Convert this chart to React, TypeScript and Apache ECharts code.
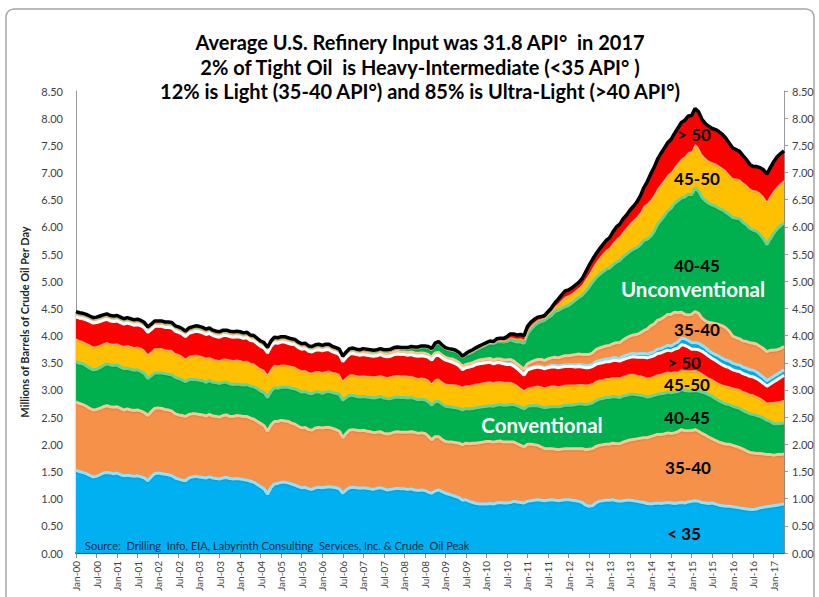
import React, { useEffect, useRef } from "react";
import * as echarts from "echarts";

// ---- Data (millions of barrels per day), monthly Jan-00 .. Apr-17 ----
const MONTHS = ["Jan", "Feb", "Mar", "Apr", "May", "Jun", "Jul", "Aug", "Sep", "Oct", "Nov", "Dec"];
const YEARS = ["00", "01", "02", "03", "04", "05", "06", "07", "08", "09", "10", "11", "12", "13", "14", "15", "16", "17"];
const Y_TICKS_MAX = 8.5;

// Conventional
const convLt35 = [
  1.52,1.50,1.48,1.46,1.43,1.40,1.41,1.44,1.47,1.48,1.47,1.46,
  1.47,1.44,1.42,1.43,1.42,1.41,1.42,1.40,1.38,1.33,1.40,1.46,
  1.47,1.46,1.45,1.44,1.42,1.38,1.36,1.34,1.33,1.38,1.40,1.41,
  1.40,1.39,1.38,1.40,1.38,1.37,1.36,1.38,1.39,1.37,1.36,1.37,
  1.36,1.35,1.34,1.32,1.30,1.26,1.22,1.18,1.08,1.20,1.27,1.28,
  1.30,1.30,1.29,1.27,1.25,1.22,1.20,1.21,1.18,1.17,1.20,1.21,
  1.20,1.21,1.22,1.21,1.20,1.18,1.10,1.16,1.20,1.21,1.20,1.19,
  1.20,1.19,1.18,1.17,1.19,1.20,1.18,1.16,1.17,1.18,1.19,1.18,
  1.18,1.17,1.18,1.16,1.15,1.16,1.15,1.12,1.10,1.14,1.16,1.13,
  1.10,1.08,1.06,1.04,1.02,0.97,0.98,0.95,0.93,0.91,0.90,0.90,
  0.90,0.91,0.90,0.92,0.93,0.92,0.92,0.93,0.95,0.94,0.93,0.92,
  0.95,0.96,0.97,0.98,0.97,0.96,0.97,0.98,0.97,0.96,0.97,0.98,
  0.98,0.97,0.96,0.95,0.93,0.88,0.86,0.87,0.92,0.95,0.96,0.97,
  0.97,0.98,0.96,0.95,0.96,0.97,0.97,0.96,0.95,0.94,0.93,0.91,
  0.90,0.91,0.92,0.91,0.92,0.93,0.92,0.91,0.92,0.93,0.92,0.94,
  0.95,0.96,0.95,0.93,0.92,0.91,0.92,0.90,0.88,0.87,0.86,0.86,
  0.85,0.84,0.83,0.82,0.81,0.80,0.80,0.81,0.83,0.84,0.85,0.86,
  0.87,0.88,0.89,0.90,
];
const conv35to40 = [
  1.26,1.25,1.25,1.24,1.23,1.23,1.23,1.22,1.22,1.23,1.22,1.22,
  1.22,1.22,1.21,1.22,1.21,1.21,1.21,1.21,1.20,1.20,1.20,1.20,
  1.20,1.20,1.19,1.19,1.19,1.18,1.18,1.19,1.18,1.17,1.16,1.15,
  1.15,1.15,1.14,1.15,1.14,1.14,1.14,1.15,1.15,1.14,1.15,1.16,
  1.16,1.16,1.17,1.16,1.16,1.16,1.16,1.16,1.16,1.15,1.15,1.14,
  1.14,1.13,1.13,1.12,1.12,1.11,1.10,1.10,1.09,1.09,1.10,1.10,
  1.10,1.10,1.09,1.08,1.07,1.06,1.02,1.04,1.06,1.06,1.06,1.06,
  1.06,1.05,1.05,1.04,1.03,1.03,1.02,1.03,1.03,1.04,1.04,1.04,
  1.04,1.05,1.05,1.06,1.05,1.05,1.05,1.03,0.98,1.00,0.98,0.96,
  0.95,0.96,0.98,0.99,1.00,1.02,1.04,1.06,1.09,1.11,1.13,1.14,
  1.15,1.14,1.14,1.13,1.13,1.12,1.12,1.11,1.09,1.07,1.05,1.03,
  1.05,1.04,1.02,1.00,0.98,0.96,0.95,0.94,0.94,0.94,0.94,0.94,
  0.94,0.95,0.96,0.97,0.99,1.02,1.05,1.05,1.04,1.03,1.03,1.03,
  1.03,1.04,1.05,1.06,1.08,1.09,1.11,1.13,1.15,1.17,1.19,1.21,
  1.24,1.25,1.26,1.27,1.27,1.28,1.28,1.30,1.31,1.34,1.33,1.31,
  1.30,1.31,1.29,1.27,1.25,1.22,1.18,1.17,1.16,1.15,1.14,1.14,
  1.13,1.12,1.11,1.09,1.07,1.05,1.04,1.02,1.00,0.98,0.96,0.95,
  0.93,0.93,0.92,0.92,
];
const conv40to45 = [
  0.74,0.74,0.75,0.74,0.74,0.74,0.74,0.75,0.76,0.77,0.77,0.77,
  0.77,0.76,0.76,0.75,0.75,0.74,0.74,0.73,0.72,0.68,0.66,0.65,
  0.64,0.65,0.66,0.66,0.67,0.67,0.67,0.66,0.64,0.64,0.63,0.63,
  0.63,0.63,0.62,0.62,0.62,0.62,0.62,0.61,0.60,0.60,0.59,0.58,
  0.58,0.58,0.59,0.59,0.60,0.60,0.60,0.61,0.62,0.62,0.62,0.61,
  0.61,0.62,0.63,0.64,0.65,0.66,0.66,0.66,0.67,0.67,0.66,0.65,
  0.64,0.65,0.66,0.66,0.67,0.68,0.69,0.66,0.64,0.63,0.62,0.62,
  0.62,0.63,0.63,0.64,0.64,0.65,0.65,0.65,0.64,0.64,0.64,0.64,
  0.64,0.63,0.63,0.62,0.62,0.62,0.62,0.63,0.64,0.64,0.65,0.65,
  0.65,0.65,0.64,0.64,0.64,0.64,0.64,0.64,0.64,0.65,0.65,0.65,
  0.65,0.66,0.66,0.67,0.67,0.68,0.68,0.69,0.69,0.70,0.70,0.70,
  0.70,0.71,0.72,0.73,0.74,0.75,0.76,0.77,0.78,0.79,0.79,0.80,
  0.80,0.80,0.81,0.82,0.82,0.83,0.83,0.84,0.84,0.85,0.85,0.86,
  0.86,0.86,0.86,0.85,0.85,0.84,0.84,0.83,0.81,0.79,0.77,0.75,
  0.74,0.74,0.74,0.75,0.75,0.75,0.75,0.75,0.74,0.74,0.74,0.73,
  0.73,0.72,0.74,0.76,0.77,0.78,0.78,0.77,0.76,0.75,0.74,0.73,
  0.72,0.72,0.72,0.71,0.71,0.71,0.71,0.70,0.68,0.66,0.63,0.61,
  0.58,0.57,0.57,0.57,
];
const conv45to50 = [
  0.43,0.43,0.42,0.43,0.44,0.43,0.43,0.42,0.41,0.40,0.40,0.40,
  0.40,0.41,0.42,0.43,0.43,0.43,0.43,0.44,0.44,0.45,0.45,0.46,
  0.46,0.46,0.45,0.45,0.46,0.45,0.45,0.44,0.43,0.44,0.45,0.46,
  0.46,0.45,0.45,0.44,0.44,0.43,0.43,0.44,0.44,0.45,0.45,0.45,
  0.45,0.44,0.44,0.43,0.43,0.42,0.42,0.42,0.43,0.43,0.43,0.42,
  0.42,0.42,0.41,0.41,0.41,0.40,0.40,0.40,0.39,0.39,0.39,0.39,
  0.39,0.39,0.39,0.38,0.38,0.38,0.37,0.38,0.39,0.39,0.39,0.39,
  0.39,0.39,0.40,0.40,0.40,0.40,0.40,0.40,0.41,0.41,0.41,0.41,
  0.41,0.41,0.40,0.40,0.40,0.40,0.40,0.41,0.41,0.42,0.42,0.42,
  0.42,0.42,0.43,0.43,0.43,0.43,0.43,0.44,0.44,0.45,0.45,0.45,
  0.45,0.45,0.44,0.44,0.44,0.43,0.43,0.42,0.40,0.38,0.36,0.35,
  0.34,0.35,0.36,0.37,0.38,0.38,0.39,0.39,0.39,0.38,0.38,0.38,
  0.38,0.38,0.37,0.37,0.37,0.37,0.37,0.37,0.37,0.36,0.36,0.36,
  0.36,0.36,0.37,0.37,0.37,0.38,0.38,0.38,0.37,0.37,0.36,0.36,
  0.36,0.36,0.37,0.37,0.38,0.38,0.38,0.38,0.37,0.37,0.37,0.38,
  0.38,0.38,0.37,0.35,0.33,0.32,0.32,0.32,0.33,0.33,0.34,0.34,
  0.35,0.35,0.36,0.36,0.37,0.37,0.37,0.36,0.35,0.34,0.33,0.36,
  0.40,0.41,0.42,0.43,
];
const convGt50 = [
  0.39,0.40,0.41,0.42,0.42,0.43,0.43,0.43,0.42,0.42,0.41,0.41,
  0.41,0.41,0.40,0.40,0.40,0.40,0.40,0.40,0.40,0.40,0.40,0.40,
  0.40,0.40,0.40,0.41,0.40,0.40,0.40,0.40,0.40,0.41,0.42,0.43,
  0.43,0.43,0.43,0.43,0.42,0.42,0.42,0.42,0.42,0.42,0.42,0.42,
  0.42,0.42,0.42,0.41,0.41,0.41,0.40,0.40,0.39,0.40,0.40,0.41,
  0.41,0.41,0.40,0.40,0.40,0.39,0.39,0.39,0.38,0.38,0.38,0.39,
  0.39,0.39,0.38,0.37,0.36,0.35,0.34,0.36,0.37,0.38,0.38,0.38,
  0.38,0.38,0.37,0.37,0.37,0.37,0.37,0.37,0.37,0.38,0.38,0.38,
  0.38,0.38,0.39,0.39,0.40,0.40,0.40,0.41,0.42,0.43,0.43,0.43,
  0.43,0.42,0.40,0.38,0.35,0.31,0.32,0.33,0.34,0.35,0.35,0.35,
  0.35,0.35,0.34,0.34,0.33,0.33,0.32,0.32,0.31,0.30,0.29,0.27,
  0.33,0.33,0.34,0.34,0.34,0.34,0.34,0.34,0.34,0.34,0.34,0.33,
  0.33,0.33,0.32,0.32,0.31,0.31,0.30,0.30,0.30,0.30,0.30,0.30,
  0.30,0.30,0.30,0.30,0.30,0.30,0.30,0.31,0.32,0.33,0.35,0.36,
  0.37,0.37,0.38,0.38,0.39,0.39,0.39,0.41,0.43,0.45,0.46,0.43,
  0.39,0.38,0.39,0.40,0.40,0.39,0.38,0.38,0.37,0.36,0.35,0.34,
  0.32,0.32,0.32,0.32,0.32,0.32,0.32,0.32,0.31,0.30,0.30,0.33,
  0.37,0.40,0.43,0.45,
];

// Unconventional (tight oil)
const unconvLt35 = [
  0.01,0.01,0.01,0.01,0.01,0.01,0.01,0.01,0.01,0.01,0.01,0.01,
  0.01,0.01,0.01,0.01,0.01,0.01,0.01,0.01,0.01,0.01,0.01,0.01,
  0.01,0.01,0.01,0.01,0.01,0.01,0.01,0.01,0.01,0.01,0.01,0.01,
  0.01,0.01,0.01,0.01,0.01,0.01,0.01,0.01,0.01,0.01,0.01,0.01,
  0.01,0.01,0.01,0.01,0.01,0.01,0.01,0.01,0.01,0.01,0.01,0.01,
  0.01,0.01,0.01,0.01,0.01,0.01,0.01,0.01,0.01,0.01,0.01,0.01,
  0.01,0.01,0.01,0.01,0.01,0.01,0.01,0.01,0.01,0.01,0.01,0.01,
  0.01,0.01,0.01,0.01,0.01,0.01,0.01,0.01,0.01,0.01,0.01,0.01,
  0.01,0.01,0.01,0.01,0.01,0.01,0.01,0.01,0.01,0.01,0.01,0.01,
  0.01,0.01,0.01,0.01,0.01,0.01,0.01,0.01,0.01,0.01,0.01,0.01,
  0.01,0.01,0.01,0.01,0.01,0.01,0.01,0.02,0.02,0.02,0.02,0.02,
  0.02,0.02,0.02,0.02,0.02,0.02,0.02,0.03,0.03,0.03,0.03,0.03,
  0.03,0.03,0.04,0.04,0.04,0.04,0.04,0.04,0.05,0.05,0.05,0.05,
  0.05,0.05,0.05,0.05,0.06,0.06,0.06,0.06,0.06,0.07,0.07,0.07,
  0.07,0.07,0.08,0.08,0.08,0.09,0.09,0.10,0.11,0.12,0.12,0.12,
  0.12,0.12,0.12,0.11,0.11,0.10,0.10,0.11,0.12,0.12,0.12,0.12,
  0.12,0.12,0.12,0.12,0.12,0.12,0.12,0.12,0.11,0.11,0.10,0.10,
  0.10,0.10,0.10,0.10,
];
const unconv35to40 = [
  0.03,0.03,0.03,0.03,0.03,0.03,0.03,0.03,0.03,0.03,0.03,0.03,
  0.03,0.03,0.03,0.03,0.03,0.03,0.03,0.03,0.03,0.03,0.03,0.03,
  0.03,0.03,0.03,0.03,0.03,0.03,0.03,0.03,0.03,0.03,0.03,0.03,
  0.03,0.03,0.03,0.03,0.03,0.03,0.03,0.03,0.03,0.03,0.03,0.03,
  0.03,0.03,0.03,0.03,0.03,0.03,0.03,0.03,0.03,0.03,0.03,0.03,
  0.03,0.03,0.03,0.03,0.03,0.03,0.03,0.03,0.03,0.03,0.03,0.03,
  0.03,0.03,0.03,0.03,0.03,0.03,0.03,0.03,0.03,0.03,0.03,0.03,
  0.03,0.03,0.03,0.03,0.03,0.03,0.04,0.04,0.04,0.04,0.04,0.04,
  0.04,0.04,0.04,0.04,0.04,0.04,0.04,0.04,0.04,0.04,0.04,0.04,
  0.04,0.04,0.05,0.05,0.05,0.05,0.05,0.05,0.05,0.05,0.06,0.06,
  0.06,0.06,0.06,0.06,0.06,0.06,0.07,0.07,0.07,0.07,0.08,0.09,
  0.09,0.10,0.11,0.12,0.13,0.13,0.14,0.14,0.15,0.15,0.16,0.17,
  0.17,0.18,0.19,0.19,0.19,0.20,0.20,0.21,0.22,0.23,0.24,0.24,
  0.25,0.26,0.28,0.29,0.30,0.32,0.33,0.34,0.36,0.38,0.42,0.46,
  0.50,0.51,0.53,0.54,0.55,0.57,0.58,0.58,0.54,0.48,0.45,0.47,
  0.52,0.57,0.55,0.50,0.49,0.52,0.55,0.57,0.58,0.60,0.59,0.55,
  0.50,0.49,0.48,0.48,0.49,0.50,0.50,0.51,0.52,0.53,0.53,0.52,
  0.48,0.45,0.43,0.43,
];
const unconv40to45 = [
  0.04,0.04,0.04,0.04,0.04,0.04,0.04,0.04,0.04,0.04,0.04,0.04,
  0.04,0.04,0.04,0.04,0.04,0.04,0.04,0.04,0.04,0.04,0.04,0.04,
  0.04,0.04,0.04,0.04,0.04,0.04,0.04,0.04,0.04,0.04,0.04,0.04,
  0.04,0.04,0.04,0.04,0.04,0.04,0.04,0.04,0.04,0.04,0.04,0.04,
  0.04,0.04,0.04,0.04,0.04,0.04,0.04,0.04,0.04,0.04,0.04,0.04,
  0.04,0.04,0.04,0.04,0.04,0.04,0.04,0.04,0.04,0.04,0.04,0.04,
  0.04,0.04,0.04,0.04,0.04,0.04,0.04,0.04,0.04,0.04,0.04,0.04,
  0.05,0.05,0.05,0.05,0.05,0.05,0.05,0.06,0.06,0.06,0.06,0.06,
  0.06,0.07,0.08,0.09,0.10,0.11,0.12,0.13,0.14,0.16,0.18,0.17,
  0.16,0.16,0.16,0.17,0.17,0.17,0.18,0.19,0.20,0.21,0.22,0.24,
  0.26,0.28,0.30,0.31,0.32,0.33,0.34,0.36,0.37,0.40,0.45,0.48,
  0.55,0.60,0.64,0.67,0.70,0.74,0.76,0.78,0.84,0.87,0.89,0.90,
  0.92,0.96,1.00,1.04,1.09,1.16,1.24,1.30,1.32,1.35,1.38,1.41,
  1.42,1.45,1.48,1.51,1.53,1.54,1.56,1.58,1.60,1.62,1.66,1.65,
  1.64,1.70,1.76,1.82,1.86,1.90,1.95,2.00,2.06,2.10,2.16,2.22,
  2.20,2.27,2.25,2.22,2.21,2.19,2.17,2.16,2.14,2.13,2.13,2.14,
  2.18,2.20,2.21,2.18,2.15,2.10,2.08,2.08,2.06,2.02,1.97,2.05,
  2.15,2.22,2.26,2.27,
];
const unconv45to50 = [
  0.01,0.01,0.01,0.01,0.01,0.01,0.01,0.01,0.01,0.01,0.01,0.01,
  0.01,0.01,0.01,0.01,0.01,0.01,0.01,0.01,0.01,0.01,0.01,0.01,
  0.01,0.01,0.01,0.01,0.01,0.01,0.01,0.01,0.01,0.01,0.01,0.01,
  0.01,0.01,0.01,0.01,0.01,0.01,0.01,0.01,0.01,0.01,0.01,0.01,
  0.01,0.01,0.01,0.01,0.01,0.01,0.01,0.01,0.01,0.01,0.01,0.01,
  0.01,0.01,0.01,0.01,0.01,0.01,0.01,0.01,0.01,0.01,0.01,0.01,
  0.01,0.01,0.01,0.01,0.01,0.01,0.01,0.01,0.01,0.01,0.01,0.01,
  0.01,0.01,0.01,0.01,0.01,0.01,0.01,0.01,0.01,0.01,0.01,0.01,
  0.01,0.01,0.01,0.01,0.01,0.01,0.01,0.01,0.01,0.01,0.01,0.01,
  0.01,0.01,0.01,0.01,0.01,0.01,0.01,0.02,0.02,0.02,0.02,0.02,
  0.02,0.02,0.02,0.03,0.03,0.03,0.04,0.05,0.06,0.06,0.07,0.07,
  0.07,0.07,0.06,0.06,0.05,0.05,0.06,0.08,0.10,0.13,0.16,0.19,
  0.19,0.18,0.18,0.18,0.20,0.23,0.25,0.27,0.29,0.31,0.34,0.36,
  0.38,0.41,0.43,0.45,0.47,0.49,0.52,0.54,0.57,0.60,0.64,0.66,
  0.68,0.68,0.67,0.67,0.67,0.67,0.67,0.67,0.70,0.73,0.75,0.78,
  0.80,0.82,0.81,0.80,0.79,0.79,0.79,0.79,0.79,0.78,0.77,0.75,
  0.73,0.73,0.73,0.74,0.74,0.74,0.74,0.75,0.77,0.79,0.80,0.80,
  0.79,0.79,0.79,0.79,
];
const unconvGt50 = [
  0.01,0.01,0.01,0.01,0.01,0.01,0.01,0.01,0.01,0.01,0.01,0.01,
  0.01,0.01,0.01,0.01,0.01,0.01,0.01,0.01,0.01,0.01,0.01,0.01,
  0.01,0.01,0.01,0.01,0.01,0.01,0.01,0.01,0.01,0.01,0.01,0.01,
  0.01,0.01,0.01,0.01,0.01,0.01,0.01,0.01,0.01,0.01,0.01,0.01,
  0.01,0.01,0.01,0.01,0.01,0.01,0.01,0.01,0.01,0.01,0.01,0.01,
  0.01,0.01,0.01,0.01,0.01,0.01,0.01,0.01,0.01,0.01,0.01,0.01,
  0.01,0.01,0.01,0.01,0.01,0.01,0.01,0.01,0.01,0.01,0.01,0.01,
  0.01,0.01,0.01,0.01,0.01,0.01,0.01,0.01,0.01,0.01,0.01,0.01,
  0.01,0.01,0.01,0.01,0.01,0.01,0.01,0.01,0.01,0.01,0.01,0.01,
  0.01,0.01,0.01,0.01,0.01,0.01,0.01,0.02,0.02,0.02,0.02,0.02,
  0.02,0.02,0.02,0.03,0.03,0.04,0.05,0.06,0.07,0.07,0.07,0.07,
  0.07,0.07,0.06,0.05,0.04,0.04,0.05,0.06,0.06,0.08,0.09,0.10,
  0.10,0.10,0.10,0.10,0.11,0.13,0.15,0.15,0.15,0.16,0.16,0.17,
  0.18,0.20,0.22,0.22,0.23,0.23,0.24,0.25,0.27,0.30,0.33,0.40,
  0.47,0.50,0.53,0.56,0.58,0.59,0.60,0.62,0.64,0.66,0.66,0.66,
  0.66,0.65,0.65,0.64,0.63,0.63,0.62,0.62,0.62,0.61,0.59,0.57,
  0.55,0.53,0.51,0.49,0.46,0.44,0.43,0.44,0.46,0.48,0.50,0.51,
  0.53,0.54,0.54,0.54,
];

const categories = YEARS.flatMap((y) => MONTHS.map((m) => `${m}-${y}`)).slice(0, convLt35.length);

const TITLE_LINES = [
  "Average U.S. Refinery Input was 31.8 API°  in 2017",
  "2% of Tight Oil  is Heavy-Intermediate (<35 API° )",
  "12% is Light (35-40 API°) and 85% is Ultra-Light (>40 API°)",
];

const COLORS = {
  blue: "#00B0F0",
  orange: "#F5914A",
  green: "#00B050",
  yellow: "#FFC000",
  red: "#FF0000",
};
const HIGHLIGHT = {
  blue: "#8FE3FF",
  orange: "#FCC596",
  green: "#5FD790",
  yellow: "#FFE38A",
  red: "#FF7272",
};

const FONT = "Lato, 'Open Sans', sans-serif";

function band(name: string, data: number[], key: keyof typeof COLORS, opts: any = {}) {
  return {
    name,
    type: "line",
    stack: "total",
    data,
    symbol: "none",
    silent: true,
    z: opts.z ?? 2,
    lineStyle: {
      color: opts.lineColor ?? HIGHLIGHT[key],
      width: opts.lineWidth ?? 3,
    },
    areaStyle: {
      color: COLORS[key],
      opacity: 1,
      shadowColor: "rgba(70,35,0,0.45)",
      shadowBlur: 2,
      shadowOffsetY: 1.2,
    },
  };
}

function textEl(text: string, x: number, y: number, size: number, color: string, align = "center") {
  return {
    type: "text",
    x,
    y,
    silent: true,
    z: 100,
    style: {
      text,
      fill: color,
      fontSize: size,
      fontWeight: "bold",
      fontFamily: FONT,
      align,
      verticalAlign: "middle",
      textAlign: align,
      textVerticalAlign: "middle",
    },
  };
}

export default function App() {
  const ref = useRef<HTMLDivElement>(null);
  useEffect(() => {
    if (!ref.current) return;
    const chart = echarts.init(ref.current, null, { renderer: "svg" });
    const axisLabel = {
      fontSize: 11,
      color: "#404040",
      fontFamily: FONT,
      formatter: (v: number) => v.toFixed(2),
    };
    chart.setOption({
      animation: false,
      backgroundColor: "#ffffff",
      textStyle: { fontFamily: FONT },
      grid: { left: 76, right: 35, top: 91, bottom: 44, containLabel: false },
      xAxis: {
        type: "category",
        data: categories,
        boundaryGap: false,
        axisLine: { lineStyle: { color: "#2c6a8a", width: 2 } },
        axisTick: { show: true, interval: 5, length: 5, lineStyle: { color: "#8c8c8c" } },
        axisLabel: { interval: 5, rotate: 90, fontSize: 10, color: "#404040", margin: 8, fontFamily: FONT },
        splitLine: { show: false },
      },
      yAxis: [
        {
          type: "value",
          min: 0,
          max: Y_TICKS_MAX,
          interval: 0.5,
          position: "left",
          name: "Millions of Barrels of Crude Oil Per Day",
          nameLocation: "middle",
          nameGap: 43,
          nameRotate: 90,
          nameTextStyle: { fontSize: 11, fontWeight: "bold", color: "#222", fontFamily: FONT },
          axisLine: { show: true, lineStyle: { color: "#9a9a9a", width: 1 } },
          axisTick: { show: false },
          axisLabel: { ...axisLabel, margin: 13 },
          splitLine: { show: false },
        },
        {
          type: "value",
          min: 0,
          max: Y_TICKS_MAX,
          interval: 0.5,
          position: "right",
          axisLine: { show: true, lineStyle: { color: "#9a9a9a", width: 1 } },
          axisTick: { show: true, length: 4, lineStyle: { color: "#9a9a9a" } },
          axisLabel: { ...axisLabel, margin: 8 },
          splitLine: { show: false },
        },
      ],
      series: [
        band("Conventional < 35", convLt35, "blue"),
        band("Conventional 35-40", conv35to40, "orange"),
        band("Conventional 40-45", conv40to45, "green"),
        band("Conventional 45-50", conv45to50, "yellow"),
        band("Conventional > 50", convGt50, "red", { lineColor: "#ffffff", lineWidth: 3, z: 3 }),
        band("Unconventional < 35", unconvLt35, "blue"),
        band("Unconventional 35-40", unconv35to40, "orange"),
        band("Unconventional 40-45", unconv40to45, "green"),
        band("Unconventional 45-50", unconv45to50, "yellow"),
        band("Unconventional > 50", unconvGt50, "red", { lineColor: "#000000", lineWidth: 3.5, z: 4 }),
      ],
      graphic: [
        {
          type: "rect",
          silent: true,
          z: 0,
          shape: { x: 6, y: 9, width: 808, height: 600, r: 8 },
          style: { fill: "none", stroke: "#a6a6a6", lineWidth: 1.5 },
        },
        textEl(TITLE_LINES[0], 420, 42, 20, "#000"),
        textEl(TITLE_LINES[1], 420, 67, 20, "#000"),
        textEl(TITLE_LINES[2], 420, 91, 20, "#000"),
        textEl("> 50", 694, 134, 17, "#000"),
        textEl("45-50", 697, 178, 17, "#000"),
        textEl("40-45", 697, 265, 17, "#000"),
        textEl("Unconventional", 693, 289, 20.5, "#ffffff"),
        textEl("35-40", 697, 329, 17, "#000"),
        textEl("> 50", 684, 362, 17, "#000"),
        textEl("45-50", 687, 384, 17, "#000"),
        textEl("40-45", 687, 417, 17, "#000"),
        textEl("Conventional", 542, 425, 20.5, "#ffffff"),
        textEl("35-40", 688, 467, 17, "#000"),
        textEl("< 35", 684, 533, 17, "#000"),
        {
          type: "text",
          x: 85,
          y: 545,
          silent: true,
          z: 100,
          style: {
            text: "Source:  Drilling  Info, EIA, Labyrinth Consulting  Services, Inc. & Crude  Oil Peak",
            fill: "#1c2b4a",
            fontSize: 11,
            fontFamily: FONT,
            align: "left",
            verticalAlign: "middle",
            textAlign: "left",
            textVerticalAlign: "middle",
          },
        },
      ],
    });
    return () => chart.dispose();
  }, []);
  return (
    <div
      ref={ref}
      style={{ position: "absolute", left: 0, top: 0, width: 819, height: 597 }}
    />
  );
}
